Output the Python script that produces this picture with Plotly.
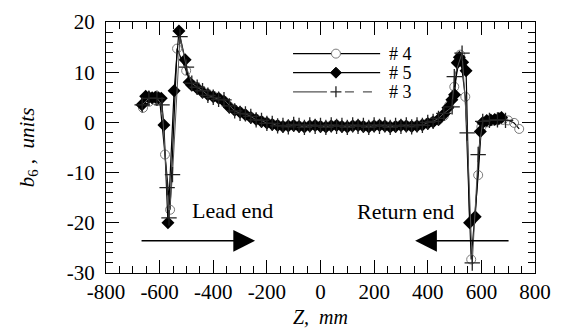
import plotly.graph_objects as go

# ---------------- data ----------------
# shared z grid for the central region (mm)
z_mid = [-480, -460, -440, -420, -400, -380, -360, -340, -320, -300, -280, -260,
         -240, -220, -200, -180, -160, -140, -120, -100, -80, -60, -40, -20, 0,
         20, 40, 60, 80, 100, 120, 140, 160, 180, 200, 220, 240, 260, 280, 300,
         320, 340, 360, 380, 400, 420, 440]

# series #4 (open circles)
z4_lead = [-662, -640, -620, -600, -580, -561, -535, -501]
b4_lead = [2.9, 4.1, 4.5, 4.6, -6.4, -17.4, 14.7, 10.3]
b4_mid = [7.6, 6.9, 6.2, 5.7, 5.3, 4.9, 4.3, 3.2, 2.5, 2.1, 1.6, 1.1, 0.7, 0.3,
          0.0, -0.3, -0.5, -0.7, -0.6, -0.5, -0.7, -0.8, -0.6, -0.5, -0.7, -0.8,
          -0.6, -0.5, -0.7, -0.8, -0.6, -0.5, -0.7, -0.8, -0.6, -0.5, -0.6, -0.8,
          -0.7, -0.5, -0.6, -0.7, -0.6, -0.4, -0.1, 0.2, 0.5]
z4_ret = [460, 480, 499, 521, 540, 562, 588, 600, 620, 640, 660, 680, 700, 722, 741]
b4_ret = [1.3, 3.4, 7.1, 13.5, 5.1, -27.3, -10.5, -0.9, 0.0, 0.3, 0.4, 0.5, 0.4, -0.1, -1.3]

# series #5 (filled diamonds)
z5_lead = [-666, -652, -640, -628, -616, -604, -594, -584, -569, -546, -528, -505, -490]
b5_lead = [3.5, 5.2, 5.0, 4.9, 5.0, 4.9, 4.8, -0.5, -20.0, 6.3, 18.2, 12.5, 8.0]
b5_mid = [7.4, 6.8, 6.0, 5.5, 5.1, 4.8, 4.2, 3.0, 2.4, 2.0, 1.5, 1.0, 0.6, 0.2,
          -0.1, -0.4, -0.6, -0.8, -0.7, -0.6, -0.8, -0.9, -0.7, -0.6, -0.8, -0.9,
          -0.7, -0.6, -0.8, -0.9, -0.7, -0.6, -0.8, -0.9, -0.7, -0.6, -0.7, -0.9,
          -0.8, -0.6, -0.7, -0.8, -0.7, -0.5, -0.2, 0.1, 0.6]
z5_ret = [460, 475, 490, 500, 510, 518, 530, 543, 556, 577, 596, 605, 620, 635, 650, 665, 675]
b5_ret = [1.6, 2.9, 4.5, 5.5, 11.9, 13.0, 12.0, 10.3, -20.0, -18.8, -1.8, 0.0, 0.4, 0.5, 0.6, 0.8, 1.0]

# series #3 (plus signs)
z3_lead = [-665, -640, -610, -591, -572, -565, -552, -524, -500]
b3_lead = [3.5, 4.8, 4.8, 3.5, -13.0, -19.0, -10.4, 17.1, 11.0]
b3_mid = [7.8, 7.0, 6.3, 5.4, 5.0, 4.6, 4.5, 3.3, 2.3, 1.8, 1.7, 1.2, 0.5, 0.4,
          -0.2, -0.2, -0.7, -0.6, -0.9, -0.4, -0.6, -1.0, -0.5, -0.8, -0.6, -1.0,
          -0.5, -0.8, -0.6, -1.0, -0.5, -0.8, -0.6, -1.0, -0.5, -0.8, -0.5, -1.0,
          -0.6, -0.8, -0.5, -0.9, -0.5, -0.6, 0.0, 0.2, 0.8]
z3_ret = [460, 491, 499, 528, 547, 566, 588, 605, 630, 660, 690]
b3_ret = [1.8, 3.1, 9.1, 13.8, -2.1, -28.0, -6.4, 0.2, 0.4, 0.5, 0.4]

series_names = ["# 4", "# 5", "# 3"]
x_ticks = [-800, -600, -400, -200, 0, 200, 400, 600, 800]
y_ticks = [-30, -20, -10, 0, 10, 20]

FONT = "Liberation Serif"

z4 = z4_lead + z_mid + z4_ret
b4 = b4_lead + b4_mid + b4_ret
z5 = z5_lead + z_mid + z5_ret
b5 = b5_lead + b5_mid + b5_ret
z3 = z3_lead + z_mid + z3_ret
b3 = b3_lead + b3_mid + b3_ret

fig = go.Figure()
fig.add_trace(go.Scatter(
    x=z4, y=b4, name=series_names[0], mode="lines+markers",
    line=dict(color="black", width=1.2),
    marker=dict(symbol="circle-open", size=9, color="#7a7a7a", line=dict(width=1))))
fig.add_trace(go.Scatter(
    x=z5, y=b5, name=series_names[1], mode="lines+markers",
    line=dict(color="black", width=1.2),
    marker=dict(symbol="diamond", size=10, color="black")))
fig.add_trace(go.Scatter(
    x=z3, y=b3, name=series_names[2], mode="lines+markers",
    line=dict(color="#555555", width=1),
    marker=dict(symbol="cross-thin", size=11, color="#222222",
                line=dict(width=1.3, color="#222222"))))

axis_common = dict(
    showline=True, linecolor="black", linewidth=1.3, mirror="ticks",
    ticks="inside", ticklen=13, tickwidth=1.3, tickcolor="black",
    showgrid=False, zeroline=False, automargin=False,
    tickfont=dict(family=FONT, size=21, color="black"),
)

fig.update_xaxes(
    range=[-800, 800], tickvals=x_ticks, ticktext=[str(v) for v in x_ticks],
    minor=dict(dtick=50, ticks="inside", ticklen=7, tickwidth=1.1, tickcolor="black"),
    title=dict(text="<i>Z,  mm</i>", font=dict(family=FONT, size=20, color="black"), standoff=6),
    **axis_common)
fig.update_yaxes(
    range=[-30, 20], tickvals=y_ticks, ticktext=[str(v) for v in y_ticks],
    minor=dict(dtick=2, ticks="inside", ticklen=7, tickwidth=1.1, tickcolor="black"),
    ticklabelstandoff=6,
    title=dict(text="<i>b</i><sub>6</sub><i> ,  units</i>", font=dict(family=FONT, size=21, color="black"), standoff=26),
    **axis_common)

# arrows and labels
fig.add_annotation(x=-244, y=-23.6, ax=-673, ay=-23.6, axref="x", ayref="y",
                   xref="x", yref="y", showarrow=True, arrowhead=2, arrowsize=2.9,
                   arrowwidth=1.5, arrowcolor="black", text="")
fig.add_annotation(x=353, y=-23.6, ax=707, ay=-23.6, axref="x", ayref="y",
                   xref="x", yref="y", showarrow=True, arrowhead=2, arrowsize=2.9,
                   arrowwidth=1.5, arrowcolor="black", text="")
fig.add_annotation(x=-328, y=-17.6, text="Lead end", showarrow=False,
                   font=dict(family=FONT, size=22, color="black"))
fig.add_annotation(x=318, y=-17.8, text="Return end", showarrow=False,
                   font=dict(family=FONT, size=22, color="black"))

# hand-drawn legend (long sample lines, as in the original figure)
leg_x0, leg_x1, leg_xm, leg_xt = 0.436, 0.639, 0.536, 0.655
leg_y = [0.874, 0.798, 0.722]
# #4: black line with open grey circle
fig.add_shape(type="line", xref="paper", yref="paper", x0=leg_x0, x1=leg_x1,
              y0=leg_y[0], y1=leg_y[0], line=dict(color="black", width=1.2))
fig.add_shape(type="circle", xref="paper", yref="paper", xsizemode="pixel", ysizemode="pixel",
              xanchor=leg_xm, yanchor=leg_y[0], x0=-4.5, x1=4.5, y0=-4.5, y1=4.5,
              fillcolor="white", line=dict(color="#7a7a7a", width=1))
# #5: black line with filled diamond
fig.add_shape(type="line", xref="paper", yref="paper", x0=leg_x0, x1=leg_x1,
              y0=leg_y[1], y1=leg_y[1], line=dict(color="black", width=1.2))
fig.add_shape(type="path", xref="paper", yref="paper", xsizemode="pixel", ysizemode="pixel",
              xanchor=leg_xm, yanchor=leg_y[1], path="M -5.5 0 L 0 5.5 L 5.5 0 L 0 -5.5 Z",
              fillcolor="black", line=dict(color="black", width=1))
# #3: grey line, plus, dashed tail
fig.add_shape(type="line", xref="paper", yref="paper", x0=leg_x0, x1=0.515,
              y0=leg_y[2], y1=leg_y[2], line=dict(color="#555555", width=1.2))
fig.add_shape(type="line", xref="paper", yref="paper", x0=0.557, x1=leg_x1,
              y0=leg_y[2], y1=leg_y[2], line=dict(color="#555555", width=1.2, dash="dash"))
fig.add_shape(type="path", xref="paper", yref="paper", xsizemode="pixel", ysizemode="pixel",
              xanchor=leg_xm, yanchor=leg_y[2], path="M -5.5 0 L 5.5 0 M 0 -5.5 L 0 5.5",
              line=dict(color="#222222", width=1.3))
for yy, nm in zip(leg_y, series_names):
    fig.add_annotation(x=leg_xt, y=yy, xref="paper", yref="paper", text=nm,
                       showarrow=False, xanchor="left", yanchor="middle",
                       font=dict(family=FONT, size=18, color="black"))

# the page body adds an 8 px offset, so margins are reduced accordingly
fig.update_layout(
    width=572, height=334,
    margin=dict(l=98, r=45, t=14, b=69),
    paper_bgcolor="white", plot_bgcolor="white",
    font=dict(family=FONT, color="black"),
    showlegend=False,
)

fig.write_html("out.html")
